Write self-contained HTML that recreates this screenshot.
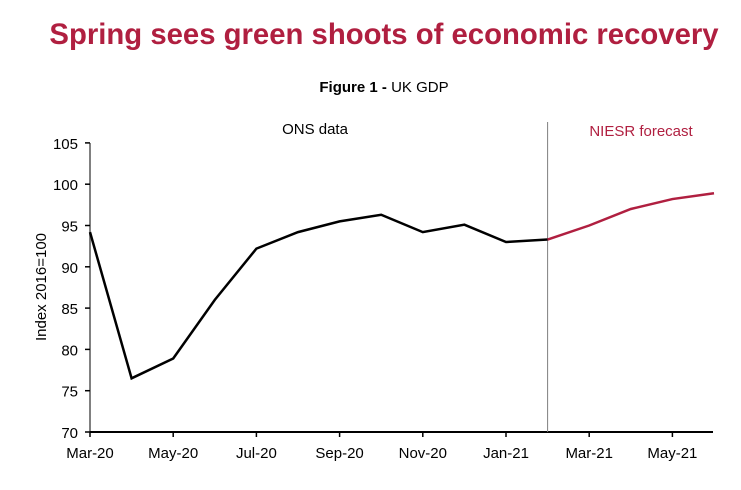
<!DOCTYPE html>
<html><head><meta charset="utf-8"><style>
body{margin:0;background:#fff;width:741px;height:485px;overflow:hidden;font-family:"Liberation Sans",sans-serif}
</style></head><body>
<svg width="741" height="485" xmlns="http://www.w3.org/2000/svg">
<text x="384" y="44" text-anchor="middle" font-size="29.3" font-weight="bold" fill="#b01f40">Spring sees green shoots of economic recovery</text>
<text x="384" y="92" text-anchor="middle" font-size="15" fill="#000"><tspan font-weight="bold">Figure 1 - </tspan>UK GDP</text>
<g id="g"></g>
</svg>
<script>
const months=["Mar-20","Apr-20","May-20","Jun-20","Jul-20","Aug-20","Sep-20","Oct-20","Nov-20","Dec-20","Jan-21","Feb-21","Mar-21","Apr-21","May-21","Jun-21"];
const onsValues=[94.2,76.5,78.9,86,92.2,94.2,95.5,96.3,94.2,95.1,93,93.3];
const forecastValues=[93.3,95,97,98.2,98.9];
const yTicks=[70,75,80,85,90,95,100,105];
const xTickLabels=["Mar-20","May-20","Jul-20","Sep-20","Nov-20","Jan-21","Mar-21","May-21"];
const NS="http://www.w3.org/2000/svg",g=document.getElementById('g');
const x=i=>90+i*41.6, y=v=>432-(v-70)*8.26;
function mk(t,a){const e=document.createElementNS(NS,t);for(const k in a)e.setAttribute(k,a[k]);g.appendChild(e);return e;}
let e=mk('line',{x1:90,y1:143,x2:90,y2:432,stroke:'#808080','stroke-width':2});

yTicks.forEach(v=>{mk('line',{x1:85,x2:90,y1:y(v),y2:y(v),stroke:'#000','stroke-width':1.5});
 const t=mk('text',{x:78,y:y(v)+6,'text-anchor':'end','font-size':15});t.textContent=v;
 });
e=mk('line',{x1:90,y1:432,x2:713,y2:432,stroke:'#000','stroke-width':2});

xTickLabels.forEach(l=>{const i=months.indexOf(l);mk('line',{x1:x(i),x2:x(i),y1:432,y2:437,stroke:'#000','stroke-width':1.5});
 const t=mk('text',{x:x(i),y:458,'text-anchor':'middle','font-size':15});t.textContent=l;
 });
const yt=mk('text',{x:0,y:0,'text-anchor':'middle','font-size':15,transform:'translate(46,287) rotate(-90)'});yt.textContent='Index 2016=100';

const split=x(onsValues.length-1);
e=mk('line',{x1:split,x2:split,y1:122,y2:432,stroke:'#808080','stroke-width':1});

let t=mk('text',{x:315,y:134,'text-anchor':'middle','font-size':15});t.textContent='ONS data';

t=mk('text',{x:641,y:136,'text-anchor':'middle','font-size':15,fill:'#b01f40'});t.textContent='NIESR forecast';

e=mk('polyline',{points:onsValues.map((v,i)=>x(i)+','+y(v)).join(' '),fill:'none',stroke:'#000','stroke-width':2.5});

const off=onsValues.length-1;
e=mk('polyline',{points:forecastValues.map((v,i)=>x(i+off)+','+y(v)).join(' '),fill:'none',stroke:'#b01f40','stroke-width':2.5});

</script>
</body></html>
